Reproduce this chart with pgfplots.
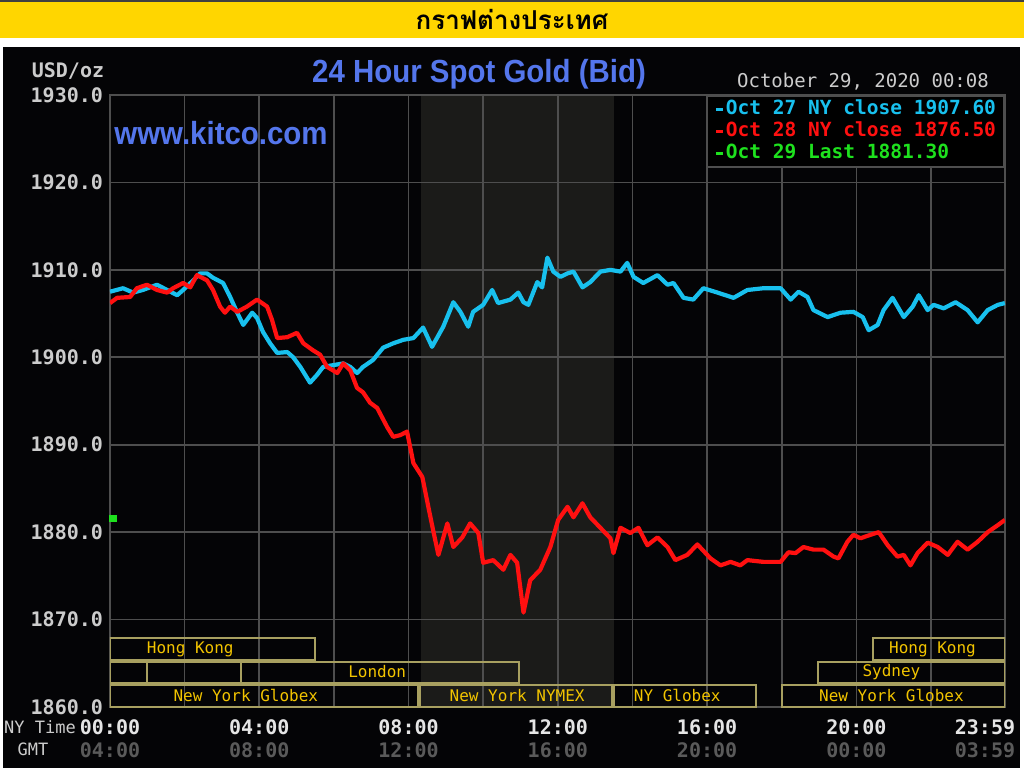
\documentclass[border=0pt]{standalone}
\usepackage{pgfplots}
\pgfplotsset{compat=1.18}
\usepackage{pgfplotstable}
\usepackage{fontspec}
\setmainfont{Liberation Sans}
\setmonofont{DejaVu Sans Mono}
\newfontfamily\thaifont[Script=Thai]{Loma}
\newfontfamily\titlefont[FakeStretch=0.92]{Liberation Sans}

\definecolor{banner}{RGB}{255,214,0}
\definecolor{panel}{RGB}{4,4,6}
\definecolor{gridc}{RGB}{78,78,78}
\definecolor{nymexbg}{RGB}{27,27,25}
\definecolor{kblue}{RGB}{84,118,236}
\definecolor{lbl}{RGB}{204,204,204}
\definecolor{gmt}{RGB}{90,90,90}
\definecolor{c27}{RGB}{24,192,238}
\definecolor{c28}{RGB}{255,16,16}
\definecolor{c29}{RGB}{30,225,30}
\definecolor{sessbox}{RGB}{168,160,96}
\definecolor{sesstxt}{RGB}{242,196,0}

% Oct 27 (cyan), hours NY time vs USD/oz
\pgfplotstableread{
h p
0 1907.5
0.35 1907.9
0.62 1907.4
0.88 1907.7
1.26 1908.3
1.53 1907.7
1.80 1907.1
1.96 1907.7
2.23 1908.8
2.41 1909.6
2.60 1909.6
2.76 1909.1
3.03 1908.5
3.22 1906.9
3.41 1905.1
3.57 1903.7
3.81 1905.1
3.94 1904.5
4.10 1902.9
4.29 1901.6
4.48 1900.5
4.75 1900.6
4.91 1900.0
5.10 1898.9
5.36 1897.1
5.55 1898.0
5.71 1898.9
5.98 1899.1
6.25 1899.3
6.44 1898.9
6.62 1898.2
6.78 1898.9
7.05 1899.7
7.32 1901.1
7.59 1901.6
7.86 1902.0
8.13 1902.2
8.39 1903.4
8.63 1901.2
8.93 1903.5
9.20 1906.3
9.39 1905.2
9.60 1903.5
9.73 1905.2
10.00 1906.0
10.24 1907.7
10.40 1906.2
10.73 1906.6
10.94 1907.4
11.08 1906.3
11.21 1906.0
11.45 1908.6
11.58 1908.0
11.72 1911.4
11.88 1909.8
12.07 1909.2
12.26 1909.6
12.42 1909.8
12.66 1908.0
12.87 1908.6
13.14 1909.8
13.41 1910.0
13.68 1909.8
13.86 1910.8
14.03 1909.2
14.29 1908.5
14.67 1909.4
14.94 1908.3
15.10 1908.5
15.37 1906.8
15.63 1906.6
15.90 1907.9
16.28 1907.4
16.71 1906.8
17.08 1907.7
17.51 1907.9
17.97 1907.9
18.24 1906.6
18.45 1907.5
18.69 1906.9
18.85 1905.4
19.23 1904.6
19.58 1905.1
19.92 1905.2
20.17 1904.6
20.33 1903.1
20.57 1903.7
20.73 1905.4
20.97 1906.8
21.27 1904.6
21.51 1905.8
21.67 1907.1
21.91 1905.4
22.07 1906.0
22.34 1905.6
22.66 1906.3
22.98 1905.4
23.25 1904.0
23.52 1905.4
23.79 1906.0
23.98 1906.2
}\octA

% Oct 28 (red)
\pgfplotstableread{
h p
0 1906.2
0.19 1906.8
0.54 1906.9
0.72 1907.9
0.99 1908.3
1.26 1907.7
1.53 1907.4
1.69 1907.9
1.96 1908.5
2.15 1908.0
2.33 1909.4
2.60 1908.8
2.76 1907.7
2.95 1905.8
3.08 1905.1
3.22 1905.8
3.41 1905.2
3.67 1905.8
3.94 1906.6
4.21 1905.8
4.34 1904.3
4.48 1902.2
4.75 1902.3
5.01 1902.8
5.18 1901.6
5.44 1900.8
5.63 1900.3
5.82 1898.9
6.09 1898.2
6.25 1899.3
6.44 1898.5
6.62 1896.5
6.78 1896.0
6.97 1894.8
7.16 1894.2
7.43 1892.0
7.59 1890.9
7.78 1891.1
7.96 1891.5
8.13 1887.9
8.37 1886.3
8.53 1882.9
8.66 1880.2
8.80 1877.4
9.04 1881.0
9.20 1878.3
9.44 1879.4
9.65 1881.0
9.87 1879.9
10.00 1876.5
10.27 1876.8
10.54 1875.7
10.73 1877.4
10.91 1876.5
11.08 1870.8
11.26 1874.5
11.53 1875.7
11.80 1878.3
12.01 1881.4
12.26 1882.9
12.42 1881.7
12.66 1883.3
12.87 1881.7
13.14 1880.5
13.41 1879.3
13.49 1877.6
13.68 1880.5
13.94 1879.9
14.16 1880.5
14.40 1878.5
14.67 1879.4
14.94 1878.3
15.15 1876.8
15.47 1877.4
15.74 1878.6
16.09 1877.0
16.36 1876.2
16.63 1876.6
16.89 1876.2
17.08 1876.8
17.51 1876.6
17.97 1876.6
18.18 1877.7
18.37 1877.6
18.58 1878.3
18.85 1878.0
19.12 1878.0
19.39 1877.2
19.52 1877.0
19.76 1878.9
19.92 1879.7
20.11 1879.3
20.38 1879.7
20.60 1880.0
20.84 1878.5
21.10 1877.2
21.27 1877.4
21.45 1876.2
21.64 1877.6
21.91 1878.8
22.18 1878.3
22.45 1877.4
22.71 1878.9
22.98 1878.0
23.25 1878.9
23.52 1880.0
23.79 1880.8
23.98 1881.4
}\octB

\begin{document}
\begin{tikzpicture}
% page frame in pixel units (y downwards)
\begin{scope}[x=0.5pt, y=-0.5pt, yshift=384pt]
  \useasboundingbox (0,0) rectangle (1024,768);
  \fill[white] (0,0) rectangle (1024,768);
  \fill[black!75] (0,0) rectangle (1024,2);
  \fill[banner] (0,2) rectangle (1024,38);
  \fill[panel] (3,47) rectangle (1020,768);
  % NYMEX trading hours (08:20 - 13:30)
  \fill[nymexbg] (420.8,95) rectangle (613.8,707);
  \node at (512,19) {\thaifont\bfseries\fontsize{13}{15}\selectfont กราฟต่างประเทศ};
\end{scope}

\begin{axis}[
  at={(55pt,30.5pt)}, anchor=south west,
  scale only axis, width=447.5pt, height=306pt,
  xmin=0, xmax=23.983, ymin=1860, ymax=1930,
  axis line style={gridc, line width=0.8pt},
  grid=both,
  major grid style={gridc, line width=0.8pt},
  minor grid style={gridc, line width=0.8pt},
  major tick length=0pt, minor tick length=0pt,
  ytick={1860,1870,...,1930},
  xtick={0,4,8,12,16,20},
  minor xtick={2,6,10,14,18,22},
  xticklabels={{00:00\\\textcolor{gmt}{04:00}},{04:00\\\textcolor{gmt}{08:00}},{08:00\\\textcolor{gmt}{12:00}},{12:00\\\textcolor{gmt}{16:00}},{16:00\\\textcolor{gmt}{20:00}},{20:00\\\textcolor{gmt}{00:00}}},
  extra x ticks={23.983},
  extra x tick labels={{23:59\\\textcolor{gmt}{03:59}}},
  extra x tick style={xticklabel style={xshift=-10pt}},
  xticklabel style={align=center, text=white!90!black, yshift=-3pt,
    font=\fontsize{10}{11.5}\selectfont\ttfamily\bfseries},
  yticklabel style={text=lbl, font=\fontsize{10}{12}\selectfont\ttfamily\bfseries,
    /pgf/number format/fixed, /pgf/number format/fixed zerofill,
    /pgf/number format/precision=1, /pgf/number format/1000 sep={},
    /pgf/number format/assume math mode=true},
  legend style={at={(1,1)}, anchor=north east, fill=black, draw=gridc,
    line width=0.8pt, inner xsep=3.5pt, inner ysep=1.5pt, row sep=0.5pt,
    nodes={inner sep=0.6pt, text height=7.3pt, text depth=2pt},
    font=\fontsize{9.75}{11}\selectfont\ttfamily\bfseries},
  legend cell align=left,
]
% session bars
\draw[sessbox, line width=1pt] (0,1865.4) rectangle (5.5,1867.9)
  (20.45,1865.4) rectangle (23.983,1867.9);
\draw[sessbox, line width=1pt] (0,1862.75) rectangle (0.98,1865.15)
  (0.98,1862.75) rectangle (3.5,1865.15)
  (3.5,1862.75) rectangle (10.95,1865.15)
  (18.97,1862.75) rectangle (23.983,1865.15);
\draw[sessbox, line width=1pt] (0,1860.05) rectangle (8.26,1862.5)
  (8.31,1860.05) rectangle (13.45,1862.5)
  (13.5,1860.05) rectangle (17.32,1862.5)
  (18.0,1860.05) rectangle (23.983,1862.5);
\begin{scope}[every node/.style={text=sesstxt, font=\fontsize{8}{9}\selectfont\ttfamily, inner sep=0pt}]
  \node at (2.15,1866.6) {Hong Kong};
  \node at (22.04,1866.6) {Hong Kong};
  \node at (7.16,1864.0) {London};
  \node at (20.94,1864.0) {Sydney};
  \node at (3.64,1861.35) {New York Globex};
  \node at (10.91,1861.35) {New York NYMEX};
  \node at (15.2,1861.35) {NY Globex};
  \node at (20.94,1861.35) {New York Globex};
\end{scope}

\addplot[c27, line width=2.1pt, line join=round,
  legend image code/.code={\draw[c27, line width=1.6pt] (0pt,0pt) -- (3.5pt,0pt);}]
  table[x=h, y=p] {\octA};
\addlegendentry{\textcolor{c27}{Oct 27 NY close 1907.60}}
\addplot[c28, line width=2.1pt, line join=round,
  legend image code/.code={\draw[c28, line width=1.6pt] (0pt,0pt) -- (3.5pt,0pt);}]
  table[x=h, y=p] {\octB};
\addlegendentry{\textcolor{c28}{Oct 28 NY close 1876.50}}
\addplot[only marks, mark=square*, mark size=1.6pt, c29,
  legend image code/.code={\draw[c29, line width=1.6pt] (0pt,0pt) -- (3.5pt,0pt);}]
  coordinates {(0.08,1881.6)};
\addlegendentry{\textcolor{c29}{Oct 29 Last 1881.30}}
\end{axis}

\begin{scope}[x=0.5pt, y=-0.5pt, yshift=384pt]
  \node[text=kblue] at (479,74) {\titlefont\bfseries\fontsize{16}{18}\selectfont 24 Hour Spot Gold (Bid)};
  \node[text=kblue] at (221,133) {\titlefont\bfseries\fontsize{16}{18}\selectfont www.kitco.com};
  \node[text=lbl] at (68,71) {\fontsize{10}{12}\selectfont\ttfamily\bfseries USD/oz};
  \node[text=lbl] at (863,82) {\fontsize{9.5}{12}\selectfont\ttfamily October 29, 2020 00:08};
  \node[text=lbl, inner sep=0pt] at (40,727) {\fontsize{8.5}{10}\selectfont\ttfamily NY Time};
  \node[text=lbl, inner sep=0pt] at (33,749) {\fontsize{8.5}{10}\selectfont\ttfamily GMT};
\end{scope}
\end{tikzpicture}
\end{document}
